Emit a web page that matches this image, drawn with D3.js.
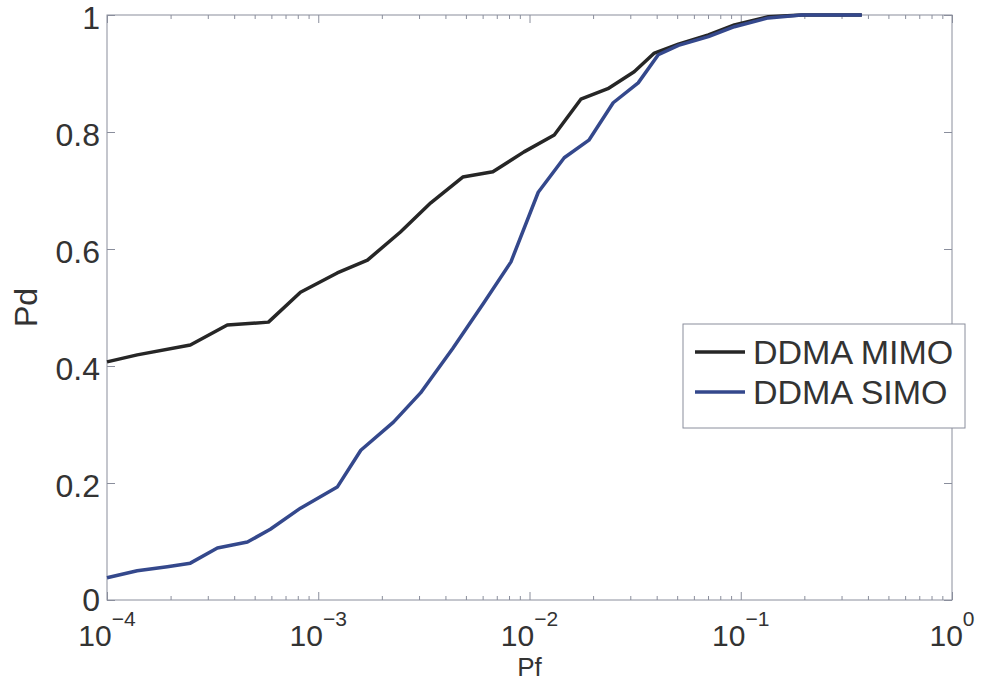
<!DOCTYPE html>
<html>
<head>
<meta charset="utf-8">
<script src="https://cdn.jsdelivr.net/npm/d3@7"></script>
<style>
  body { margin: 0; background: #fff; }
  svg { display: block; font-family: "Liberation Sans", Arial, sans-serif; }
</style>
</head>
<body>
<div class="roc-chart"></div>
<script>
// values
const mimoPf = [1e-4, 1.39e-4, 2.48e-4, 3.71e-4, 5.81e-4, 8.24e-4, 1.23e-3, 1.71e-3, 2.45e-3, 3.41e-3,
    4.83e-3, 6.71e-3, 9.42e-3, 1.31e-2, 1.75e-2, 2.35e-2, 3.13e-2, 3.90e-2, 5.07e-2, 7.03e-2,
    9.33e-2, 0.135, 0.194, 0.374];
const mimoPd = [0.407, 0.419, 0.436, 0.470, 0.475, 0.526, 0.559, 0.581, 0.629, 0.679,
    0.723, 0.732, 0.766, 0.795, 0.856, 0.874, 0.903, 0.935, 0.950, 0.966,
    0.983, 0.997, 1.0, 1.0];
const simoPf = [1e-4, 1.39e-4, 1.93e-4, 2.48e-4, 3.33e-4, 4.62e-4, 5.93e-4, 8.24e-4, 1.23e-3, 1.59e-3,
    2.27e-3, 3.05e-3, 4.33e-3, 6.08e-3, 8.17e-3, 1.10e-2, 1.46e-2, 1.91e-2, 2.49e-2, 3.27e-2,
    4.07e-2, 5.07e-2, 7.03e-2, 9.33e-2, 0.135, 0.194, 0.374];
const simoPd = [0.038, 0.050, 0.057, 0.063, 0.089, 0.099, 0.121, 0.157, 0.193, 0.256,
    0.304, 0.354, 0.430, 0.508, 0.578, 0.697, 0.756, 0.786, 0.850, 0.884,
    0.932, 0.948, 0.963, 0.980, 0.995, 1.0, 1.0];
const seriesNames = ["DDMA MIMO", "DDMA SIMO"];
const xMajor = [1e-4, 1e-3, 1e-2, 1e-1, 1];
const xExp = ["\u22124", "\u22123", "\u22122", "\u22121", "0"];
const yTicks = [0, 0.2, 0.4, 0.6, 0.8, 1];
const yTickLabels = ["0", "0.2", "0.4", "0.6", "0.8", "1"];

const W = 981, H = 682;
const margin = {top: 15, right: 29, bottom: 82, left: 107};
const width = W - margin.left - margin.right,
    height = H - margin.top - margin.bottom;
const axisColor = "#8a8e9c", textColor = "#333";
const colors = ["#262626", "#34488c"];

const svg = d3.select(".roc-chart")
    .append("svg")
    .attr("width", W)
    .attr("height", H)
    .append("g")
    .attr("transform", "translate(" + margin.left + "," + margin.top + ")");

const xScale = d3.scaleLog().domain([1e-4, 1]).range([0, width]);
const yScale = d3.scaleLinear().domain([0, 1]).range([height, 0]);

// minor ticks of the log axis
const xMinor = [];
xMajor.slice(0, -1).forEach(d => {
    for (let k = 2; k <= 9; k++) xMinor.push(d * k);
});

function styleAxis(g) {
    g.select(".domain").remove();
    g.selectAll("line").attr("stroke", axisColor);
}

// ticks pointing inward on all four sides
svg.append("g").attr("transform", "translate(0," + height + ")")
    .call(d3.axisBottom(xScale).tickValues(xMajor).tickSize(-8).tickFormat("")).call(styleAxis);
svg.append("g").attr("transform", "translate(0," + height + ")")
    .call(d3.axisBottom(xScale).tickValues(xMinor).tickSize(-4).tickFormat("")).call(styleAxis);
svg.append("g")
    .call(d3.axisTop(xScale).tickValues(xMajor).tickSize(-8).tickFormat("")).call(styleAxis);
svg.append("g")
    .call(d3.axisTop(xScale).tickValues(xMinor).tickSize(-4).tickFormat("")).call(styleAxis);
svg.append("g")
    .call(d3.axisLeft(yScale).tickValues(yTicks).tickSize(-8).tickFormat("")).call(styleAxis);
svg.append("g").attr("transform", "translate(" + width + ",0)")
    .call(d3.axisRight(yScale).tickValues(yTicks).tickSize(-8).tickFormat("")).call(styleAxis);

// box
svg.append("rect")
    .attr("width", width)
    .attr("height", height)
    .attr("fill", "none")
    .attr("stroke", axisColor)
    .attr("stroke-width", 1);

// y tick labels (the bottom one lifted a little so it clears 10^-4)
svg.selectAll(".ylab")
    .data(yTicks)
    .enter()
    .append("text")
    .attr("class", "ylab")
    .attr("x", -7)
    .attr("y", d => yScale(d))
    .attr("dy", d => d === 0 ? "0.34em" : "0.44em")
    .attr("text-anchor", "end")
    .attr("font-size", 32)
    .attr("fill", textColor)
    .text((d, i) => yTickLabels[i]);

// x tick labels, 10 with a superscript exponent
const xl = svg.selectAll(".xlab")
    .data(xMajor)
    .enter()
    .append("text")
    .attr("class", "xlab")
    .attr("x", d => xScale(d))
    .attr("y", height + 46)
    .attr("text-anchor", "middle")
    .attr("fill", textColor);
xl.append("tspan").attr("font-size", 30).text("10");
xl.append("tspan").attr("font-size", 21).attr("dy", -20).text((d, i) => xExp[i]);

// axis titles
svg.append("text")
    .attr("x", width / 2)
    .attr("y", height + 76)
    .attr("text-anchor", "middle")
    .attr("font-size", 26)
    .attr("fill", textColor)
    .text("Pf");
svg.append("text")
    .attr("transform", "translate(" + (37 - margin.left) + "," + (height / 2) + ") rotate(-90)")
    .attr("text-anchor", "middle")
    .attr("font-size", 32)
    .attr("fill", textColor)
    .text("Pd");

// curves
const line = d3.line()
    .x(d => xScale(d[0]))
    .y(d => yScale(d[1]));
const series = [d3.zip(mimoPf, mimoPd), d3.zip(simoPf, simoPd)];
series.forEach((s, i) => {
    svg.append("path")
        .datum(s)
        .attr("fill", "none")
        .attr("stroke", colors[i])
        .attr("stroke-width", 3.5)
        .attr("stroke-linejoin", "round")
        .attr("d", line);
});

// legend (sits over the right border, as in the figure)
const legend = svg.append("g")
    .attr("transform", "translate(" + (683 - margin.left) + "," + (324 - margin.top) + ")");
legend.append("rect")
    .attr("width", 282)
    .attr("height", 104)
    .attr("fill", "#fff")
    .attr("stroke", axisColor)
    .attr("stroke-width", 1);
seriesNames.forEach((name, i) => {
    const yy = 28 + i * 40;
    legend.append("line")
        .attr("x1", 12).attr("x2", 62)
        .attr("y1", yy).attr("y2", yy)
        .attr("stroke", colors[i])
        .attr("stroke-width", 3.5);
    legend.append("text")
        .attr("x", 70)
        .attr("y", yy)
        .attr("dy", "0.36em")
        .attr("font-size", 34)
        .attr("fill", textColor)
        .text(name);
});
</script>
</body>
</html>
